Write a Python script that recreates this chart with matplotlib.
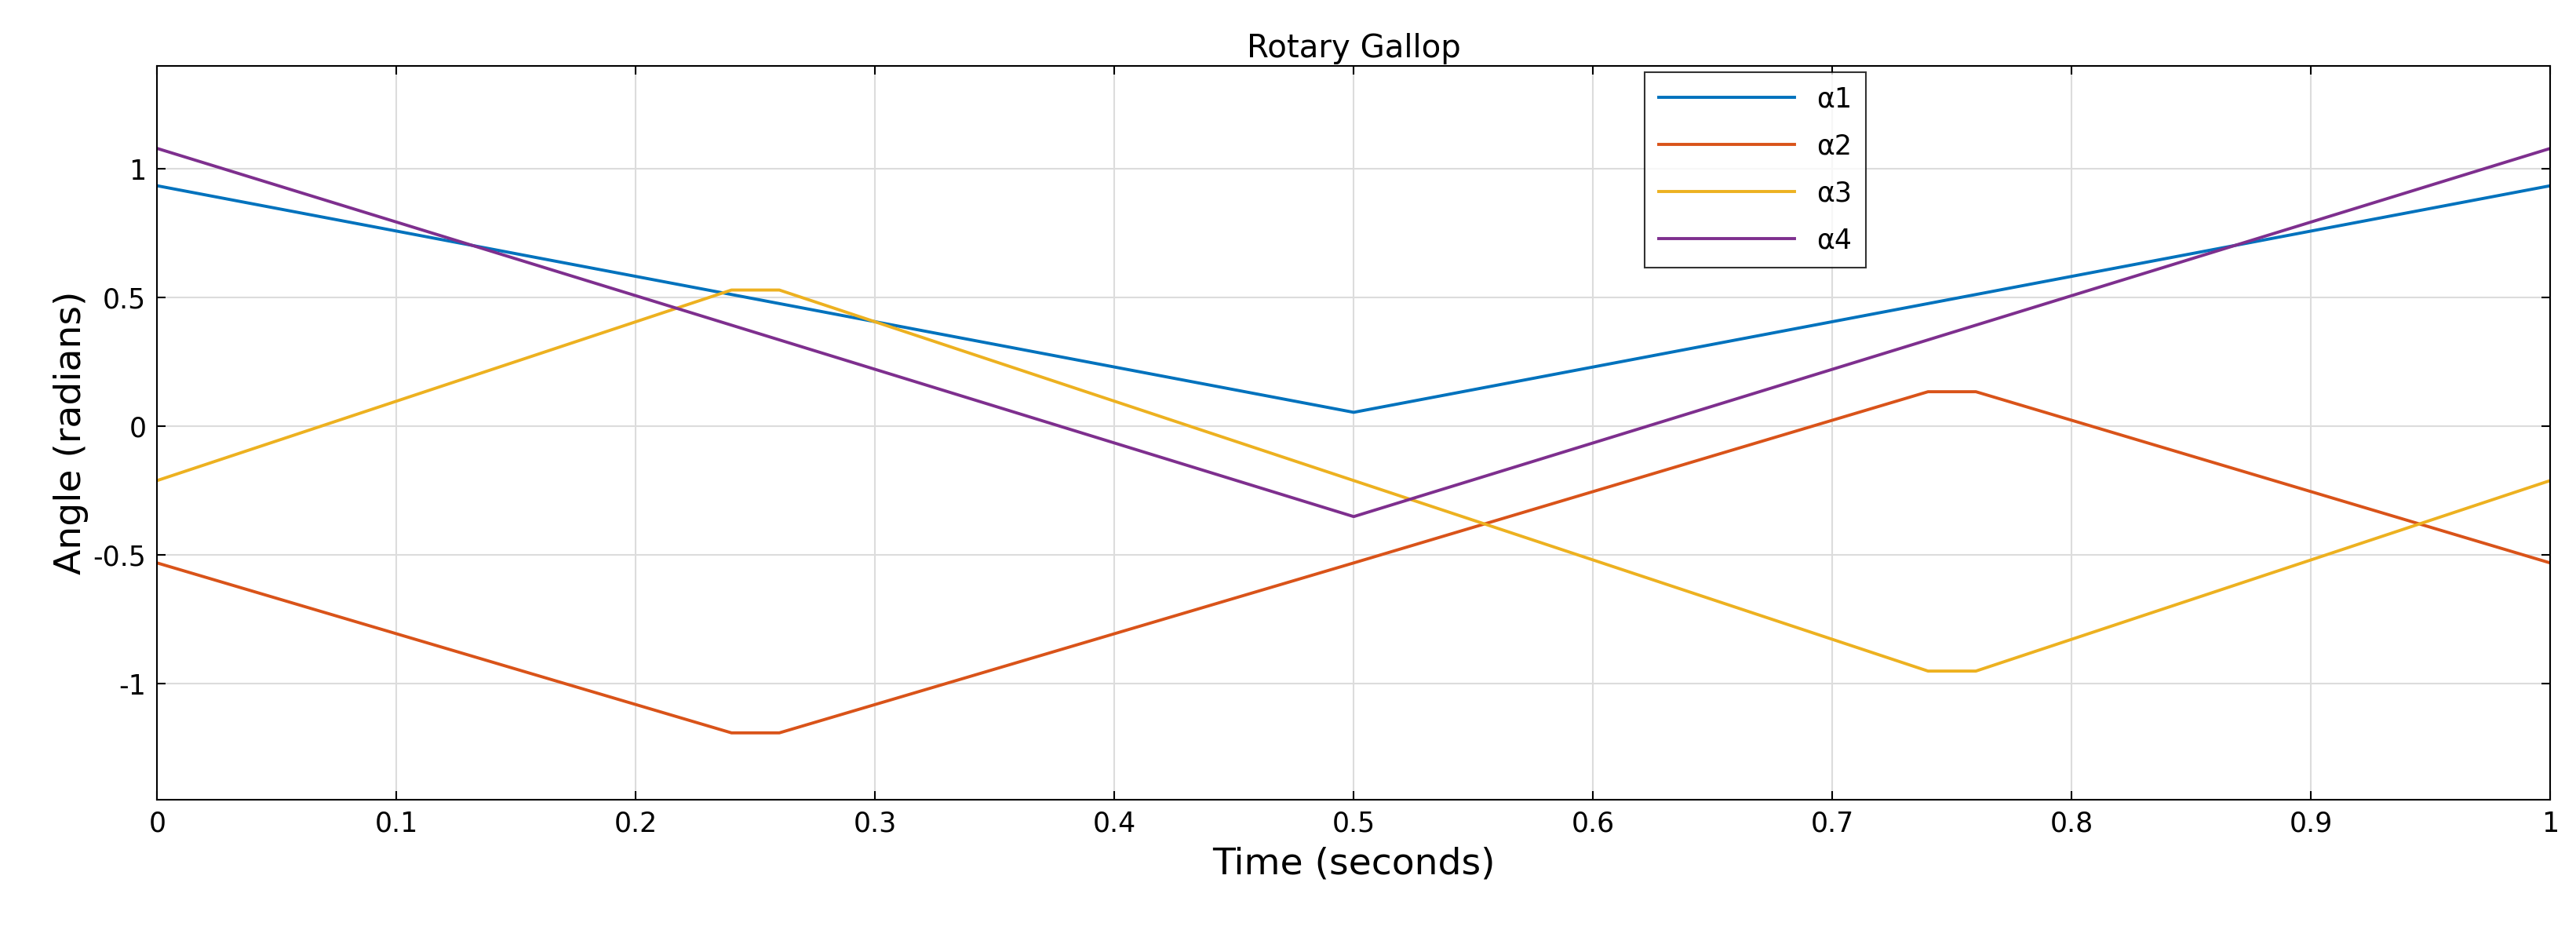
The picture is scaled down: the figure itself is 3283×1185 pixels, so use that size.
import matplotlib
matplotlib.use("Agg")
import matplotlib.pyplot as plt

t1 = [0, 0.5, 1]
a1 = [0.935, 0.055, 0.935]
a4 = [1.08, -0.35, 1.08]
t2 = [0, 0.24, 0.26, 0.5, 0.74, 0.76, 1]
a2 = [-0.53, -1.19, -1.19, -0.53, 0.135, 0.135, -0.53]
a3 = [-0.21, 0.53, 0.53, -0.21, -0.95, -0.95, -0.21]
xticks = [0, 0.1, 0.2, 0.3, 0.4, 0.5, 0.6, 0.7, 0.8, 0.9, 1]
yticks = [-1, -0.5, 0, 0.5, 1]

fig = plt.figure(figsize=(32.83, 11.85), dpi=100)
ax = fig.add_axes([0.061, 0.140, 0.929, 0.789])
lw = 2.8
ax.plot(t1, a1, color='#0072BD', lw=lw, label='α1')
ax.plot(t2, a2, color='#D95319', lw=lw, label='α2')
ax.plot(t2, a3, color='#EDB120', lw=lw, label='α3')
ax.plot(t1, a4, color='#7E2F8E', lw=lw, label='α4')
ax.set_xlim(0, 1)
ax.set_ylim(-1.45, 1.4)
ax.set_xticks(xticks)
ax.set_xticklabels([f"{v:g}" for v in xticks])
ax.set_yticks(yticks)
ax.set_yticklabels([f"{v:g}" for v in yticks])
ax.grid(True, color='#dcdcdc', lw=1.5)
ax.tick_params(labelsize=25, direction='in', length=8, width=1.5, top=True, right=True, pad=10)
for s in ax.spines.values():
    s.set_linewidth(1.5)
ax.set_xlabel('Time (seconds)', fontsize=34, labelpad=8)
ax.set_ylabel('Angle (radians)', fontsize=34)
ax.set_title('Rotary Gallop', fontsize=29, pad=8)
leg = ax.legend(loc='upper left', bbox_to_anchor=(0.616, 1.01), fontsize=25,
                fancybox=False, edgecolor='black', handlelength=5.0, labelspacing=0.75,
                borderpad=0.5)
leg.get_frame().set_linewidth(1.5)
fig.savefig('out.png', dpi=100)
